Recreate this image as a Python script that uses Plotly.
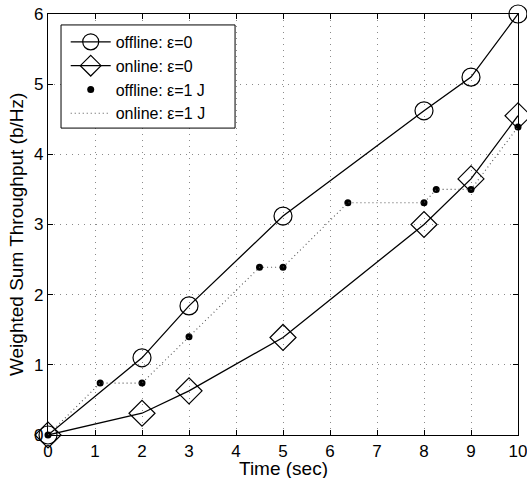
import plotly.graph_objects as go

# Time instants (sec)
t_eps0 = [0, 2, 3, 5, 8, 9, 10]
# Weighted sum throughput (b/Hz), energy tolerance 0
offline_eps0 = [0, 1.10, 1.84, 3.12, 4.62, 5.10, 6.00]
online_eps0 = [0, 0.31, 0.63, 1.39, 3.00, 3.65, 4.55]

# Energy tolerance 1 J
t_eps1 = [0, 1.11, 2, 3, 4.5, 5, 6.38, 8, 8.26, 9, 10]
offline_eps1 = [0, 0.74, 0.74, 1.40, 2.39, 2.39, 3.31, 3.31, 3.50, 3.50, 4.39]
online_eps1 = [0, 0.74, 0.74, 1.40, 2.39, 2.39, 3.31, 3.31, 3.50, 3.50, 4.39]

x_ticks = list(range(0, 11))
y_ticks = list(range(0, 7))

x_title = "Time (sec)"
y_title = "Weighted Sum Throughput (b/Hz)"

FONT = "Liberation Sans, Arial, Helvetica, sans-serif"
FS_AX = 17
FS_TITLE = 19
FS_LEG = 16

fig = go.Figure()
fig.add_trace(go.Scatter(
    x=t_eps0, y=offline_eps0, name="offline: \u03b5=0", mode="lines+markers",
    line=dict(color="black", width=1.3),
    marker=dict(symbol="circle-open", size=18, color="black", line=dict(width=1.2)),
    cliponaxis=False))
fig.add_trace(go.Scatter(
    x=t_eps0, y=online_eps0, name="online: \u03b5=0", mode="lines+markers",
    line=dict(color="black", width=1.3),
    marker=dict(symbol="diamond-open", size=20, color="black", line=dict(width=1.2)),
    cliponaxis=False))
fig.add_trace(go.Scatter(
    x=t_eps1, y=offline_eps1, name="offline: \u03b5=1 J", mode="markers",
    marker=dict(symbol="circle", size=7, color="black"),
    cliponaxis=False))
fig.add_trace(go.Scatter(
    x=t_eps1, y=online_eps1, name="online: \u03b5=1 J", mode="lines",
    line=dict(color="#555555", width=1.1, dash="1px,3px"),
    cliponaxis=False))

axis_common = dict(
    showline=True, linecolor="black", linewidth=1.3, mirror="ticks",
    ticks="inside", ticklen=5, tickcolor="black", tickwidth=1,
    showgrid=True, gridcolor="#8a8a8a", griddash="1px,5px", gridwidth=1,
    zeroline=False, tickfont=dict(family=FONT, size=FS_AX, color="black"),
    ticklabeloverflow="allow", automargin=False,
)

# Legend frame drawn as a shape so it can be wider than the entries
legend_frame = dict(type="rect", xref="paper", yref="paper",
                    x0=0.0277, x1=0.398, y0=0.729, y1=0.974,
                    fillcolor="white", line=dict(color="black", width=1),
                    layer="above")

# Axis titles placed as annotations for precise positioning
titles = [
    dict(text=x_title, xref="paper", yref="paper", x=0.5, y=-0.079,
         xanchor="center", yanchor="middle", showarrow=False,
         font=dict(family=FONT, size=FS_TITLE, color="black")),
    dict(text=y_title, xref="paper", yref="paper", x=-0.068, y=0.475,
         xanchor="center", yanchor="middle", textangle=-90, showarrow=False,
         font=dict(family=FONT, size=FS_TITLE, color="black")),
]

fig.update_layout(
    width=527, height=478, autosize=False,
    margin=dict(l=48, r=9, t=14, b=43, pad=0, autoexpand=False),
    paper_bgcolor="white", plot_bgcolor="white",
    font=dict(family=FONT, size=FS_AX, color="black"),
    xaxis=dict(range=[0, 10], tickvals=x_ticks, **axis_common),
    yaxis=dict(range=[0, 6], tickvals=y_ticks, **axis_common),
    shapes=[legend_frame],
    annotations=titles,
    legend=dict(x=0.0377, y=0.974, xanchor="left", yanchor="top",
                bgcolor="rgba(0,0,0,0)", borderwidth=0,
                font=dict(family=FONT, size=FS_LEG, color="black"),
                itemwidth=40),
    showlegend=True,
)

fig.write_html("out.html")
